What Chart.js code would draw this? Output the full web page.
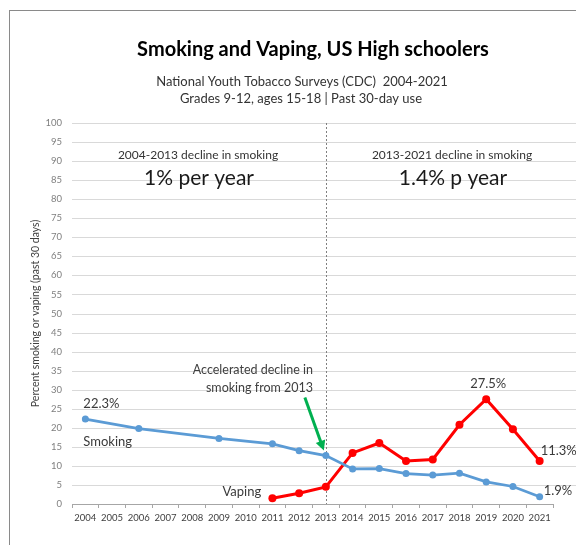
<!DOCTYPE html>
<html>
<head>
<meta charset="utf-8">
<script src="https://cdn.jsdelivr.net/npm/chart.js@4"></script>
<style>
  html, body { margin: 0; padding: 0; background: #fff; }
  #wrap { position: relative; width: 576px; height: 545px; overflow: hidden; }
  #frame { position: absolute; left: 9px; top: 10px; width: 700px; height: 700px;
           border-left: 1.5px solid #8a8a8a; border-top: 1.5px solid #8a8a8a; pointer-events: none; }
  canvas { position: absolute; left: 0; top: 0; }
</style>
</head>
<body>
<div id="wrap">
  <canvas id="c" width="576" height="545"></canvas>
  <div id="frame"></div>
</div>
<script>
// ---- data ----
const years = ['2004','2005','2006','2007','2008','2009','2010','2011','2012','2013','2014','2015','2016','2017','2018','2019','2020','2021'];
const smokingYears = ['2004','2006','2009','2011','2012','2013','2014','2015','2016','2017','2018','2019','2020','2021'];
const smokingValues = [22.3, 19.8, 17.2, 15.8, 14.0, 12.7, 9.2, 9.3, 8.0, 7.6, 8.1, 5.8, 4.6, 1.9];
const vapingYears = ['2011','2012','2013','2014','2015','2016','2017','2018','2019','2020','2021'];
const vapingValues = [1.5, 2.8, 4.5, 13.4, 16.0, 11.3, 11.7, 20.8, 27.5, 19.6, 11.3];
const yTicks = [0,5,10,15,20,25,30,35,40,45,50,55,60,65,70,75,80,85,90,95,100];
const splitYear = '2013';

const titleText = 'Smoking and Vaping, US High schoolers';
const subtitle1 = 'National Youth Tobacco Surveys (CDC)  2004-2021';
const subtitle2 = 'Grades 9-12, ages 15-18 | Past 30-day use';
const leftNote = ['2004-2013 decline in smoking', '1% per year'];
const rightNote = ['2013-2021 decline in smoking', '1.4% p year'];
const arrowNote = ['Accelerated decline in', 'smoking from 2013'];

function align(cats, ys, vs) {
  return cats.map(c => { const i = ys.indexOf(c); return i >= 0 ? vs[i] : null; });
}
const smokingData = align(years, smokingYears, smokingValues);
const vapingData = align(years, vapingYears, vapingValues);

const FONT = 'Lato, "Open Sans", sans-serif';

const decor = {
  id: 'decor',
  beforeDatasetsDraw(chart) {
    const ctx = chart.ctx, ca = chart.chartArea;
    const xs = chart.scales.x, ys = chart.scales.y;
    ctx.save();
    // horizontal grid lines extending to the right edge
    ctx.strokeStyle = '#d9d9d9';
    ctx.lineWidth = 1;
    yTicks.forEach(v => {
      if (v === 0) return;
      const y = Math.round(ys.getPixelForValue(v)) + 0.5;
      ctx.beginPath(); ctx.moveTo(ca.left, y); ctx.lineTo(chart.width, y); ctx.stroke();
    });
    // vertical dotted split line
    const sx = Math.round(xs.getPixelForValue(years.indexOf(splitYear))) + 0.5;
    ctx.strokeStyle = '#7f7f7f';
    ctx.setLineDash([2, 2]);
    ctx.beginPath(); ctx.moveTo(sx, ys.getPixelForValue(100)); ctx.lineTo(sx, ys.getPixelForValue(0)); ctx.stroke();
    ctx.setLineDash([]);

    // titles
    ctx.textAlign = 'center'; ctx.textBaseline = 'middle';
    ctx.fillStyle = '#000';
    ctx.font = 'bold 20px ' + FONT;
    ctx.fillText(titleText, 313, 50);
    ctx.fillStyle = '#333';
    ctx.font = '13px ' + FONT;
    ctx.fillText(subtitle1, 302, 82);
    ctx.fillText(subtitle2, 301, 99);

    // period notes
    ctx.fillStyle = '#333';
    ctx.font = '12px ' + FONT;
    ctx.fillText(leftNote[0], 198, 155);
    ctx.fillText(rightNote[0], 452, 155);
    ctx.fillStyle = '#1a1a1a';
    ctx.font = '21px ' + FONT;
    ctx.fillText(leftNote[1], 199, 178);
    ctx.fillText(rightNote[1], 453, 178);

    // arrow note
    ctx.fillStyle = '#404040';
    ctx.font = '12.5px ' + FONT;
    ctx.textAlign = 'right';
    ctx.fillText(arrowNote[0], 313, 370);
    ctx.fillText(arrowNote[1], 313, 388);
    ctx.restore();
  },
  afterDatasetsDraw(chart) {
    const ctx = chart.ctx;
    const xs = chart.scales.x, ys = chart.scales.y;
    const px = (cat, v) => [xs.getPixelForValue(years.indexOf(cat)), ys.getPixelForValue(v)];
    ctx.save();
    // green arrow to 2013 smoking point
    const [tx0, ty0] = px(splitYear, smokingData[years.indexOf(splitYear)]);
    const tx = tx0 - 2, ty = ty0 - 5;
    const fx = tx - 19, fy = ty - 53;
    const ang = Math.atan2(ty - fy, tx - fx);
    ctx.strokeStyle = '#00b050'; ctx.fillStyle = '#00b050';
    ctx.lineWidth = 3;
    ctx.beginPath(); ctx.moveTo(fx, fy);
    ctx.lineTo(tx - 7 * Math.cos(ang), ty - 7 * Math.sin(ang)); ctx.stroke();
    ctx.beginPath();
    ctx.moveTo(tx, ty);
    ctx.lineTo(tx - 10 * Math.cos(ang) + 5 * Math.sin(ang), ty - 10 * Math.sin(ang) - 5 * Math.cos(ang));
    ctx.lineTo(tx - 10 * Math.cos(ang) - 5 * Math.sin(ang), ty - 10 * Math.sin(ang) + 5 * Math.cos(ang));
    ctx.closePath(); ctx.fill();

    // value and series labels
    ctx.fillStyle = '#3a3a3a';
    ctx.textBaseline = 'middle';
    ctx.font = '13px ' + FONT;
    const fmt = v => v.toFixed(1) + '%';
    ctx.textAlign = 'left';
    let [ax, ay] = px(smokingYears[0], smokingValues[0]);
    ctx.fillText(fmt(smokingValues[0]), ax - 2, ay - 15);
    ctx.fillText('Smoking', ax - 2, ay + 23);
    let [vx, vy] = px(vapingYears[0], vapingValues[0]);
    ctx.fillText('Vaping', vx - 50, vy - 6);
    const iMax = vapingValues.indexOf(Math.max(...vapingValues));
    let [mx, my] = px(vapingYears[iMax], vapingValues[iMax]);
    ctx.textAlign = 'center';
    ctx.fillText(fmt(vapingValues[iMax]), mx + 2, my - 15);
    ctx.textAlign = 'left';
    const lv = vapingValues.length - 1, ls = smokingValues.length - 1;
    let [ex, ey] = px(vapingYears[lv], vapingValues[lv]);
    ctx.fillText(fmt(vapingValues[lv]), ex + 1, ey - 10);
    let [sx2, sy2] = px(smokingYears[ls], smokingValues[ls]);
    ctx.fillText(fmt(smokingValues[ls]), sx2 + 4, sy2 - 6);
    ctx.restore();
  }
};

new Chart(document.getElementById('c'), {
  type: 'line',
  data: {
    labels: years,
    datasets: [
      { label: 'Smoking', data: smokingData, spanGaps: true,
        borderColor: '#5b9bd5', backgroundColor: '#5b9bd5', borderWidth: 2.75,
        pointRadius: 3.5, pointBorderWidth: 0, pointBackgroundColor: '#5b9bd5', tension: 0 },
      { label: 'Vaping', data: vapingData, spanGaps: true,
        borderColor: '#ff0000', backgroundColor: '#ff0000', borderWidth: 3,
        pointRadius: 4, pointBorderWidth: 0, pointBackgroundColor: '#ff0000', tension: 0 }
    ]
  },
  options: {
    responsive: false,
    animation: false,
    devicePixelRatio: 1,
    layout: { padding: { left: 9, top: 123, right: 23, bottom: 0 } },
    plugins: { legend: { display: false }, tooltip: { enabled: false }, title: { display: false } },
    scales: {
      x: {
        type: 'category',
        offset: true,
        grid: { offset: true, drawOnChartArea: false, drawTicks: true, tickLength: 4, color: '#a6a6a6' },
        border: { display: true, color: '#a6a6a6', width: 1 },
        ticks: { autoSkip: false, maxRotation: 0, padding: 4, color: '#404040', font: { family: FONT, size: 9.5 } },
        afterFit(s) { s.height = 41; }
      },
      y: {
        min: 0, max: 100,
        afterBuildTicks(s) { s.ticks = yTicks.map(v => ({ value: v })); },
        grid: { display: false, drawTicks: false },
        border: { display: false },
        ticks: { padding: 10, color: '#7f7f7f', font: { family: FONT, size: 9.5 } },
        title: { display: true, text: 'Percent smoking or vaping (past 30 days)', color: '#404040',
                 font: { family: FONT, size: 10.5 }, padding: { top: 20, bottom: 0 } },
        afterFit(s) { s.width = 63; }
      }
    }
  },
  plugins: [decor]
});
</script>
</body>
</html>
